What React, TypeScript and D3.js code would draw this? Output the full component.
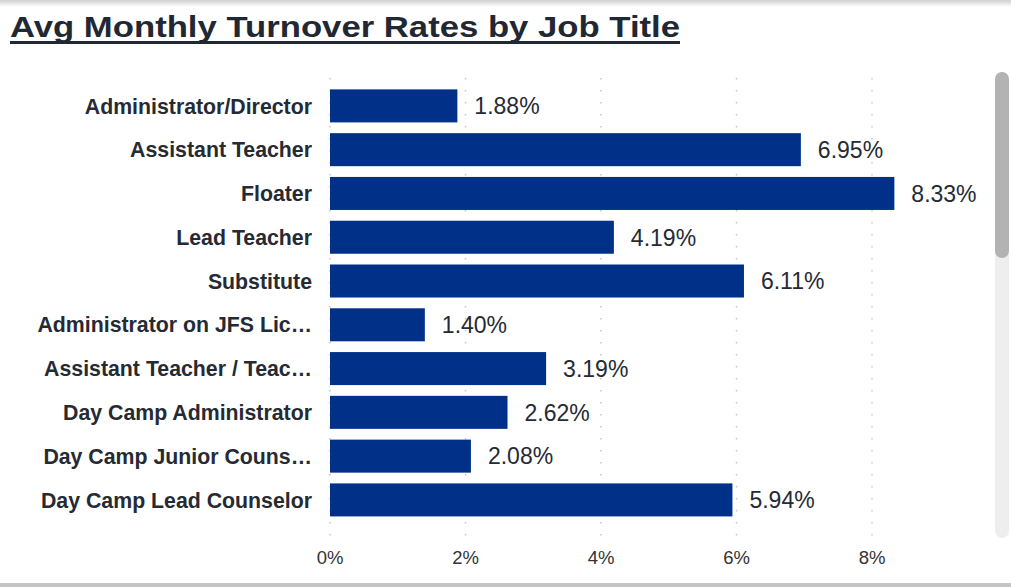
import React from "react";
import * as d3 from "d3";

const categories = [
  "Administrator/Director",
  "Assistant Teacher",
  "Floater",
  "Lead Teacher",
  "Substitute",
  "Administrator on JFS Lic…",
  "Assistant Teacher / Teac…",
  "Day Camp Administrator",
  "Day Camp Junior Couns…",
  "Day Camp Lead Counselor",
];
const values = [1.88, 6.95, 8.33, 4.19, 6.11, 1.4, 3.19, 2.62, 2.08, 5.94];
const ticks = [0, 2, 4, 6, 8];

export default function App() {
  const W = 1011, H = 587;
  const x = d3.scaleLinear().domain([0, 8]).range([330, 872]);
  const y = d3.scaleBand<string>().domain(categories).range([84, 521.8]).paddingInner(0.246).paddingOuter(0.123);
  return (
    <svg width={W} height={H} style={{ position: "absolute", left: 0, top: 0, display: "block" }}>
      <defs>
        <linearGradient id="topShadow" x1="0" y1="0" x2="0" y2="1">
          <stop offset="0" stopColor="#d0d0d0" />
          <stop offset="1" stopColor="#ffffff" />
        </linearGradient>
      </defs>
      <rect x={0} y={0} width={W} height={H} fill="#fff" />
      <rect x={0} y={0} width={W} height={7} fill="url(#topShadow)" />
      <rect x={0} y={583} width={W} height={4} fill="#c4c4c4" />
      <text x={10} y={37} fontFamily="Liberation Sans, Arial, sans-serif" fontWeight="bold" fontSize={30} fill="#1f2833" textLength={670} lengthAdjust="spacingAndGlyphs">
        Avg Monthly Turnover Rates by Job Title
      </text>
      <rect x={10} y={41} width={670} height={3} fill="#1f2833" />
      {ticks.map((t) => (
        <g key={t}>
          <line x1={x(t)} x2={x(t)} y1={78} y2={536} stroke="#c8c8c8" strokeWidth={1.5} strokeDasharray="1.5,10.5" />
          <text x={x(t)} y={563.5} textAnchor="middle" fontFamily="Liberation Sans, Arial, sans-serif" fontSize={18.5} fill="#333">
            {t}%
          </text>
        </g>
      ))}
      {categories.map((c, i) => (
        <g key={c}>
          <rect x={x(0)} y={y(c)} width={x(values[i]) - x(0)} height={y.bandwidth()} fill="#003087" />
          <text x={x(values[i]) + 17} y={(y(c) as number) + y.bandwidth() / 2} dy="0.36em" fontFamily="Liberation Sans, Arial, sans-serif" fontSize={23} fill="#252a33">
            {values[i].toFixed(2)}%
          </text>
          <text x={312} y={(y(c) as number) + y.bandwidth() / 2} dy="0.36em" textAnchor="end" fontFamily="Liberation Sans, Arial, sans-serif" fontWeight="bold" fontSize={21.3} fill="#252a33">
            {c}
          </text>
        </g>
      ))}
      <rect x={995} y={72} width={14} height={466} rx={7} fill="#eeeeee" />
      <rect x={995} y={72} width={14} height={186} rx={7} fill="#b3b3b3" />
    </svg>
  );
}
